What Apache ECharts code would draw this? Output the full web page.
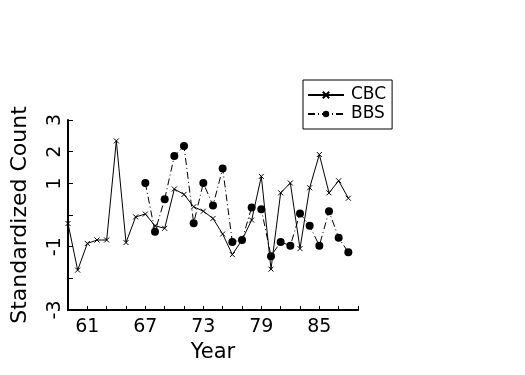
<!DOCTYPE html>
<html>
<head>
<meta charset="utf-8">
<script src="https://cdn.jsdelivr.net/npm/echarts@6/dist/echarts.min.js"></script>
<style>html,body{margin:0;padding:0;background:#fff;}#c{width:525px;height:375px;}</style>
</head>
<body>
<div id="c"></div>
<script>
const years = [59,60,61,62,63,64,65,66,67,68,69,70,71,72,73,74,75,76,77,78,79,80,81,82,83,84,85,86,87,88];
const cbc = [-0.27,-1.74,-0.9,-0.79,-0.79,2.34,-0.87,-0.06,0.03,-0.34,-0.42,0.82,0.65,0.26,0.12,-0.11,-0.6,-1.25,-0.79,-0.16,1.22,-1.71,0.7,1.01,-1.06,0.86,1.91,0.7,1.08,0.53];
const bbsYears = [67,68,69,70,71,72,73,74,75,76,77,78,79,80,81,82,83,84,85,86,87,88];
const bbs = [1.01,-0.53,0.5,1.86,2.18,-0.26,1.01,0.3,1.47,-0.85,-0.79,0.24,0.18,-1.3,-0.85,-0.97,0.05,-0.34,-0.97,0.12,-0.72,-1.18];
const xLabels = [61,67,73,79,85];
const yLabels = [3,2,1,-1,-3];

const font = 'DejaVu Sans';
const chart = echarts.init(document.getElementById('c'), null, {renderer:'canvas'});
chart.setOption({
  animation:false,
  backgroundColor:'#fff',
  grid:{left:68, top:120, width:290, height:190, containLabel:false, outerBoundsMode:'none'},
  legend:{
    orient:'vertical', left:303, top:80,
    padding:[6,6,6,4], itemGap:1, itemWidth:36, itemHeight:8,
    borderColor:'#000', borderWidth:1,
    textStyle:{fontFamily:font, fontSize:17, lineHeight:18, color:'#000', padding:[0,0,0,2]},
    data:['CBC','BBS']
  },
  xAxis:{
    type:'value', min:59, max:89, interval:2,
    name:'Year', nameLocation:'middle', nameGap:32,
    nameTextStyle:{fontFamily:font, fontSize:21, color:'#000'},
    axisLine:{onZero:false, lineStyle:{color:'#000', width:2}},
    axisTick:{inside:true, length:4, lineStyle:{color:'#000', width:1}},
    splitLine:{show:false},
    axisLabel:{fontFamily:font, fontSize:19, color:'#000', margin:8,
      formatter:v => xLabels.includes(v) ? String(v) : ''}
  },
  yAxis:{
    type:'value', min:-3, max:3, interval:1,
    name:'Standardized Count', nameLocation:'middle', nameGap:37,
    nameTextStyle:{fontFamily:font, fontSize:22, color:'#000'},
    axisLine:{onZero:false, lineStyle:{color:'#000', width:2}},
    axisTick:{inside:true, length:5, lineStyle:{color:'#000', width:1}},
    splitLine:{show:false},
    axisLabel:{fontFamily:font, fontSize:19, color:'#000', margin:3, rotate:90,
      formatter:v => yLabels.includes(v) ? String(v) : ''}
  },
  series:[
    {name:'CBC', type:'line',
     data: years.map((y,i)=>[y,cbc[i]]),
     symbol:'path://M0,0L10,10M10,0L0,10', symbolSize:5,
     itemStyle:{color:'#000', borderColor:'#000', borderWidth:1},
     lineStyle:{color:'#000', width:1}},
    {name:'BBS', type:'line',
     data: bbsYears.map((y,i)=>[y,bbs[i]]),
     symbol:'circle', symbolSize:8,
     itemStyle:{color:'#000'},
     lineStyle:{color:'#000', width:1, type:[7,3,1,3]}}
  ]
});
</script>
</body>
</html>
